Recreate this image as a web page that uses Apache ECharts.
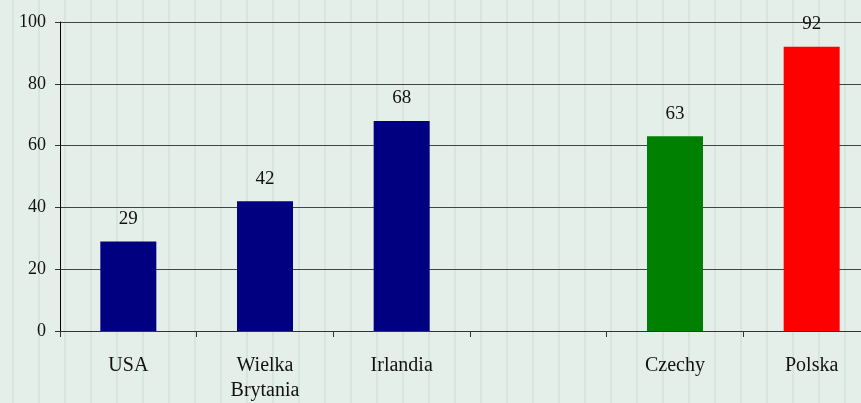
<!DOCTYPE html>
<html>
<head>
<meta charset="utf-8">
<script src="https://cdn.jsdelivr.net/npm/echarts@6/dist/echarts.min.js"></script>
<style>
  html, body { margin: 0; padding: 0; overflow: hidden; background: #E5EFEA; }
  #chart { width: 880px; height: 403px; }
</style>
</head>
<body>
<div id="chart"></div>
<script>
// dane
var categories = ['USA', 'Wielka\nBrytania', 'Irlandia', '', 'Czechy', 'Polska'];
var values = [29, 42, 68, null, 63, 92];
var barColors = ['#000080', '#000080', '#000080', '#000080', '#008000', '#FF0000'];
var yTicks = { min: 0, max: 100, step: 20 };

// tlo w paski
var tile = document.createElement('canvas');
tile.width = 26; tile.height = 10;
var ctx = tile.getContext('2d');
ctx.fillStyle = '#E5EFEA';
ctx.fillRect(0, 0, 26, 10);
ctx.fillStyle = '#D6E5DF';
ctx.fillRect(12, 0, 2, 10);

var myChart = echarts.init(document.getElementById('chart'));

var option = {
  backgroundColor: { image: tile, repeat: 'repeat' },
  animation: false,
  grid: { left: 60, right: 0, top: 22, bottom: 72, containLabel: false },
  xAxis: {
    type: 'category',
    data: categories,
    axisLine: { lineStyle: { color: '#333', width: 1 } },
    axisTick: { show: true, length: 6, lineStyle: { color: '#333' } },
    axisLabel: {
      interval: 0,
      margin: 22,
      color: '#111',
      fontFamily: 'Liberation Serif',
      fontSize: 20,
      lineHeight: 25
    }
  },
  yAxis: {
    type: 'value',
    min: yTicks.min,
    max: yTicks.max,
    interval: yTicks.step,
    axisLine: { show: true, lineStyle: { color: '#000', width: 1 } },
    axisTick: { show: true, length: 5, lineStyle: { color: '#333' } },
    axisLabel: {
      margin: 14,
      color: '#111',
      fontFamily: 'Liberation Serif',
      fontSize: 18
    },
    splitLine: { show: true, lineStyle: { color: '#444', width: 1 } }
  },
  series: [{
    type: 'bar',
    barWidth: 56,
    data: values.map(function (v, i) {
      return { value: v, itemStyle: { color: barColors[i] } };
    }),
    label: {
      show: true,
      position: 'top',
      distance: 13,
      color: '#111',
      fontFamily: 'Liberation Serif',
      fontSize: 19
    }
  }]
};

myChart.setOption(option);
</script>
</body>
</html>
